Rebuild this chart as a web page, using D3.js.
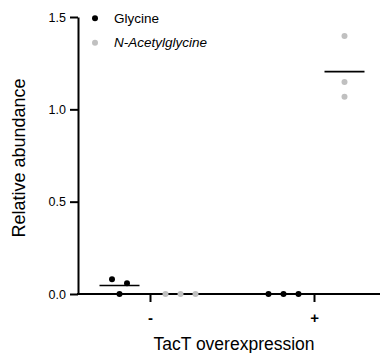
<!DOCTYPE html>
<meta charset="utf-8">
<head>
  <title>Relative abundance</title>
  <script src="https://cdn.jsdelivr.net/npm/d3@7"></script>
  <style>
    body { margin: 0; background: #fff; }
    text { font-family: "Liberation Sans", Arial, sans-serif; fill: #000; }
  </style>
</head>
<body>
<div id="chart"></div>
<script>
// data
var groups = ["-", "+"];
var series = ["Glycine", "N-Acetylglycine"];
var glycine = [[0.080, 0.058, 0.0], [0.0, 0.0, 0.0]];
var acetylglycine = [[0.0, 0.0, 0.0], [1.397, 1.148, 1.068]];
var yTicks = [0, 0.5, 1.0, 1.5];
var seriesColors = ["#000000", "#c0c0c0"];

var width = 381, height = 353;
var margin = {top: 17, right: 2, bottom: 59, left: 78};

var svg = d3.select("#chart").append("svg")
    .attr("width", width)
    .attr("height", height);

var y = d3.scaleLinear().domain([0, 1.5]).range([height - margin.bottom, margin.top]);
var x = d3.scalePoint().domain(groups).range([68, 396]).padding(0.5);
var xSub = d3.scalePoint().domain(series).range([-30.5, 30.5]);
var color = d3.scaleOrdinal().domain(series).range(seriesColors);

var values = {"Glycine": glycine, "N-Acetylglycine": acetylglycine};

// spread overlapping dots sideways (prism-like scatter)
function spread(vals) {
  var r = 6, step = 15;
  var clusters = [];
  vals.forEach(function(v, i) {
    var py = y(v);
    var c = clusters.find(function(c) { return c.some(function(o) { return Math.abs(y(o.v) - py) < r; }); });
    if (c) c.push({v: v, i: i}); else clusters.push([{v: v, i: i}]);
  });
  var out = [];
  clusters.forEach(function(c) {
    c.forEach(function(o, k) {
      out.push({v: o.v, dx: (k - (c.length - 1) / 2) * step});
    });
  });
  return out;
}

// means
series.forEach(function(s) {
  groups.forEach(function(g, gi) {
    var vals = values[s][gi];
    var cx = x(g) + xSub(s);
    svg.append("line")
      .attr("x1", cx - 20).attr("x2", cx + 20)
      .attr("y1", y(d3.mean(vals))).attr("y2", y(d3.mean(vals)))
      .attr("stroke", "#000").attr("stroke-width", 1.6);
  });
});

// axes
var yAxis = svg.append("g")
  .attr("transform", "translate(" + margin.left + ",0)")
  .call(d3.axisLeft(y).tickValues(yTicks).tickFormat(d3.format(".1f")).tickSize(8).tickSizeOuter(0));
yAxis.select(".domain").attr("stroke-width", 2);
yAxis.selectAll(".tick line").attr("stroke-width", 2);
yAxis.selectAll(".tick text").attr("font-size", 12.5).attr("x", -12)
  .style("font-family", "'Liberation Sans', Arial, sans-serif");

var xAxis = svg.append("g")
  .attr("transform", "translate(0," + y(0) + ")")
  .call(d3.axisBottom(x).tickSize(8).tickSizeOuter(0));
xAxis.select(".domain").remove();
xAxis.append("line").attr("x1", margin.left - 1).attr("x2", width - 1)
  .attr("stroke", "#000").attr("stroke-width", 2);
xAxis.selectAll(".tick line").attr("stroke-width", 2);
xAxis.selectAll(".tick text").attr("font-size", 15).attr("y", 18)
  .attr("font-weight", "bold")
  .style("font-family", "'Liberation Sans', Arial, sans-serif");

// dots
series.forEach(function(s) {
  groups.forEach(function(g, gi) {
    var cx = x(g) + xSub(s);
    svg.append("g").selectAll("circle")
      .data(spread(values[s][gi]))
      .enter().append("circle")
      .attr("cx", function(d) { return cx + d.dx; })
      .attr("cy", function(d) { return y(d.v); })
      .attr("r", 3)
      .attr("fill", color(s));
  });
});

// axis titles
svg.append("text")
  .attr("x", 234).attr("y", 349.5)
  .attr("text-anchor", "middle")
  .attr("font-size", 17.5)
  .text("TacT overexpression");
svg.append("text")
  .attr("transform", "translate(24.5,158) rotate(-90)")
  .attr("text-anchor", "middle")
  .attr("font-size", 18)
  .text("Relative abundance");

// legend
var legend = svg.append("g").attr("transform", "translate(95,18.3)");
series.forEach(function(s, i) {
  var row = legend.append("g").attr("transform", "translate(0," + i * 24.4 + ")");
  row.append("circle").attr("r", 3).attr("fill", color(s));
  row.append("text").attr("x", 19).attr("dy", "0.35em")
    .attr("font-size", 13.5)
    .attr("font-style", i === 1 ? "italic" : "normal")
    .text(s);
});
</script>
</body>
</html>
